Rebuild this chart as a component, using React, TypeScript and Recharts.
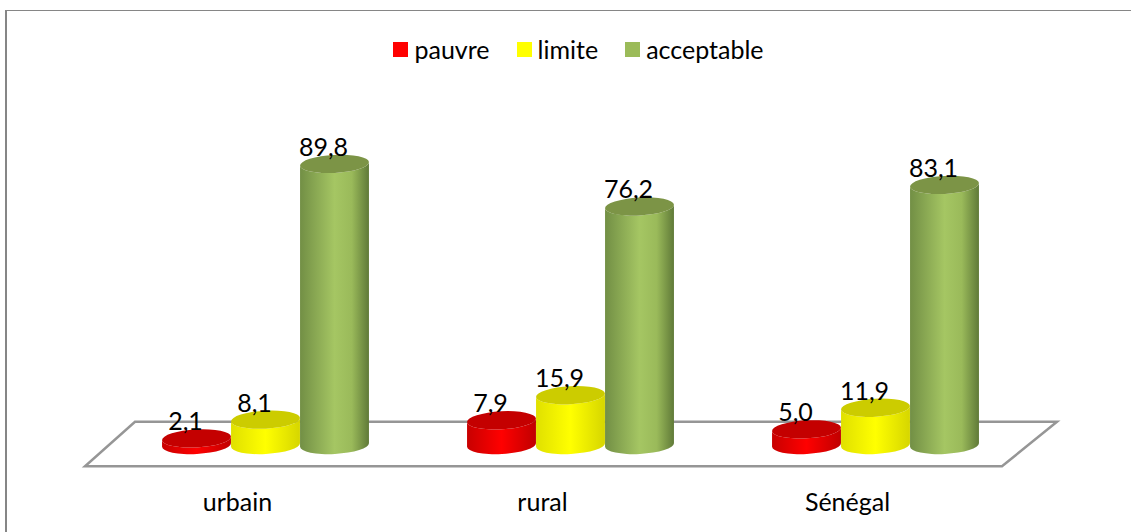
import { BarChart, Bar, XAxis, YAxis, Legend, LabelList, ReferenceArea } from "recharts";

const categories = ["urbain", "rural", "Sénégal"];
const pauvre = [2.1, 7.9, 5.0];
const limite = [8.1, 15.9, 11.9];
const acceptable = [89.8, 76.2, 83.1];

const data = categories.map((name, i) => ({
  name,
  pauvre: pauvre[i],
  limite: limite[i],
  acceptable: acceptable[i],
}));

const FONT = "Lato, sans-serif";
const RY = 9;
const TILT = 3; // degrees, the cylinders lean a little in the original

const formatValue = (v: number) => v.toFixed(1).replace(".", ",");

function Cylinder({ x, y, width, height, gradient, top }: any) {
  const rx = width / 2;
  const cx = x + rx;
  const bottom = y + height;
  const rad = (TILT * Math.PI) / 180;
  const dx = rx * Math.cos(rad);
  const dy = rx * Math.sin(rad);
  const body = `M${cx - dx} ${y + dy} L${cx - dx} ${bottom + dy} A${rx} ${RY} ${-TILT} 0 0 ${cx + dx} ${bottom - dy} L${cx + dx} ${y - dy} A${rx} ${RY} ${-TILT} 0 1 ${cx - dx} ${y + dy} Z`;
  return (
    <g>
      <path d={body} fill={`url(#${gradient})`} />
      <ellipse cx={cx} cy={y} rx={rx} ry={RY} fill={top} transform={`rotate(${-TILT} ${cx} ${y})`} />
    </g>
  );
}

function ValueLabel({ x, y, width, value }: any) {
  return (
    <text x={x + width / 2 - 11} y={y - 8} textAnchor="middle" fontFamily={FONT} fontSize={25} fill="#000">
      {formatValue(value)}
    </text>
  );
}

function Floor({ x, y, width, height }: any) {
  const points = [
    [x - 28, y + height],
    [x + width - 26, y + height],
    [x + width + 29, y],
    [x + 22, y],
  ]
    .map((p) => p.join(","))
    .join(" ");
  return <polygon points={points} fill="#fff" stroke="#969696" strokeWidth={2.5} />;
}

function LegendRow({ payload }: any) {
  return (
    <div style={{ display: "flex", justifyContent: "center", fontFamily: FONT, fontSize: 25, color: "#000", lineHeight: "26px" }}>
      {(payload || []).map((item: any, i: number) => (
        <span key={item.value} style={{ display: "flex", alignItems: "center", marginLeft: i ? 27 : 0 }}>
          <span style={{ width: 15, height: 15, background: item.color, marginRight: 6 }} />
          {item.value}
        </span>
      ))}
    </div>
  );
}

export default function App() {
  return (
    <div style={{ position: "absolute", left: 0, top: 0, width: 1131, height: 532, background: "#fff", overflow: "hidden" }}>
      <div style={{ position: "absolute", left: 5, top: 10, width: 1200, height: 600, borderTop: "1px solid #868686", borderLeft: "2px solid #868686" }} />
      <BarChart
        width={1131}
        height={532}
        data={data}
        margin={{ top: 106, right: 103, bottom: 57, left: 113 }}
        barSize={69}
        barGap={0}
        style={{ position: "absolute", left: 0, top: 0 }}
      >
        <defs>
          <linearGradient id="sideRed" x1="0" y1="0" x2="1" y2="0">
            <stop offset="0" stopColor="#c80000" />
            <stop offset="0.5" stopColor="#ff0000" />
            <stop offset="1" stopColor="#c00000" />
          </linearGradient>
          <linearGradient id="sideYellow" x1="0" y1="0" x2="1" y2="0">
            <stop offset="0" stopColor="#e0e000" />
            <stop offset="0.5" stopColor="#ffff00" />
            <stop offset="1" stopColor="#d6d600" />
          </linearGradient>
          <linearGradient id="sideGreen" x1="0" y1="0" x2="1" y2="0">
            <stop offset="0" stopColor="#728f45" />
            <stop offset="0.5" stopColor="#a5c663" />
            <stop offset="0.75" stopColor="#9aba5a" />
            <stop offset="1" stopColor="#607a38" />
          </linearGradient>
        </defs>
        <XAxis dataKey="name" axisLine={false} tickLine={false} tickMargin={42} tick={{ fontFamily: FONT, fontSize: 25, fill: "#000", dx: -28 }} />
        <YAxis hide domain={[0, 100]} />
        <Legend verticalAlign="top" itemSorter={null} content={<LegendRow />} wrapperStyle={{ top: 36, left: 13, width: 1131 }} />
        <ReferenceArea y1={-6.8} y2={7.4} ifOverflow="visible" shape={<Floor />} />
        <Bar dataKey="pauvre" fill="#ff0000" isAnimationActive={false} shape={<Cylinder gradient="sideRed" top="#c40000" />}>
          <LabelList dataKey="pauvre" content={<ValueLabel />} />
        </Bar>
        <Bar dataKey="limite" fill="#ffff00" isAnimationActive={false} shape={<Cylinder gradient="sideYellow" top="#cccc00" />}>
          <LabelList dataKey="limite" content={<ValueLabel />} />
        </Bar>
        <Bar dataKey="acceptable" fill="#9bbb59" isAnimationActive={false} shape={<Cylinder gradient="sideGreen" top="#7c9446" />}>
          <LabelList dataKey="acceptable" content={<ValueLabel />} />
        </Bar>
      </BarChart>
    </div>
  );
}
